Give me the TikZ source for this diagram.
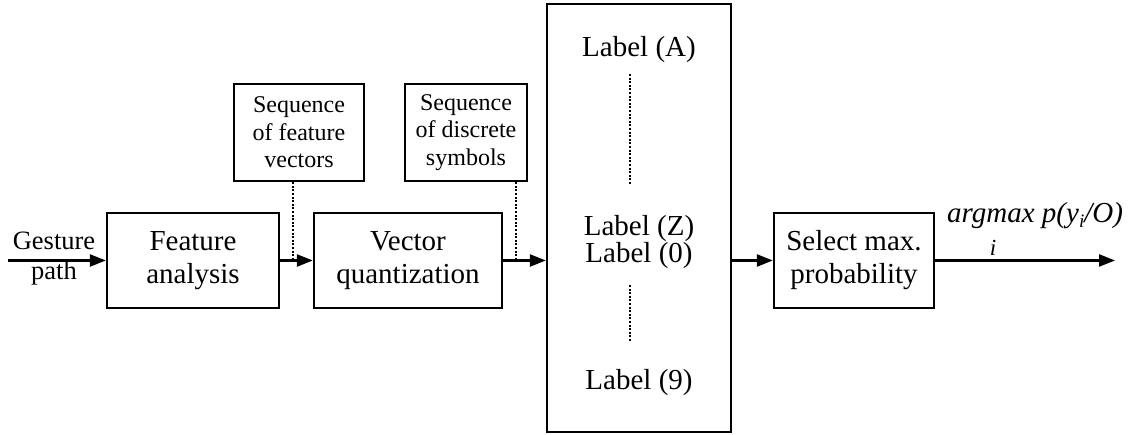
\documentclass[tikz,border=0pt]{standalone}
\usepackage{fontspec}
\setmainfont{Liberation Serif}
\usetikzlibrary{arrows.meta}

\begin{document}
\begin{tikzpicture}[x=1pt,y=1pt,
  blk/.style={draw, line width=2.4pt, align=center, inner sep=0pt,
    font=\fontsize{29}{33}\selectfont, minimum height=95pt},
  note/.style={draw, line width=2.4pt, align=center, inner sep=0pt,
    font=\fontsize{24}{27.5}\selectfont, minimum height=97pt},
  lbl/.style={anchor=base, font=\fontsize{29}{33}\selectfont, inner sep=0pt},
  flow/.style={line width=2.4pt, -{Triangle[length=16pt,width=12pt]}},
  dots/.style={line width=2pt, dash pattern=on 2pt off 1.6pt}]

\useasboundingbox (0,0) rectangle (1130,435);

% processing blocks
\node[blk, minimum width=172pt] (fa) at (193,174.5) {Feature\\analysis};
\node[blk, minimum width=188pt] (vq) at (408,174.5) {Vector\\quantization};
\node[blk, minimum width=160pt] (sel) at (854,174.5) {Select max.\\probability};

% intermediate data descriptions
\node[note, minimum width=130pt] (sf) at (299,302.5) {Sequence\\of feature\\vectors};
\node[note, minimum width=122pt] (sd) at (466,302.5) {Sequence\\of discrete\\symbols};

% bank of label models
\node[draw, line width=2.4pt, minimum width=184pt, minimum height=428pt, inner sep=0pt] (bank) at (639,217) {};
\node[lbl] (la) at (639,378) {Label (A)};
\node[lbl] (lz) at (639,199) {Label (Z)};
\node[lbl] (l0) at (639,172) {Label (0)};
\node[lbl] (l9) at (639,45) {Label (9)};
\coordinate (d1t) at (630,361);
\coordinate (d1b) at (630,251);
\coordinate (d2t) at (630,150);
\coordinate (d2b) at (630,93);
\draw[dots] (d1t) -- (d1b);
\draw[dots] (d2t) -- (d2b);

% input
\coordinate (in) at (8,174.5);
\node[align=center, inner sep=0pt, font=\fontsize{26.5}{30}\selectfont] (gp) at (54,176) {Gesture\\path};
\draw[flow] (in) -- (fa.west);

% main flow
\draw[flow] (fa.east) -- (vq.west);
\draw[flow] (vq.east) -- (vq.east -| bank.west);
\draw[flow] (bank.east |- sel.west) -- (sel.west);
\coordinate (out) at (1115,174.5);
\draw[flow] (sel.east) -- (out);

% taps from the flow to the data descriptions
\coordinate (t1) at (293,174.5);
\coordinate (t2) at (516,174.5);
\draw[dots] (t1 |- sf.south) -- (t1);
\draw[dots] (t2 |- sd.south) -- (t2);

% output expression
\node[anchor=base west, inner sep=0pt, font=\fontsize{29}{33}\selectfont\itshape] (res) at (947,212)
  {arg\makebox[0pt][l]{\hspace{0.12em}\raisebox{-33pt}{\fontsize{23}{23}\selectfont i}}max p(y\raisebox{-5pt}{\fontsize{19}{19}\selectfont i}/O)};

\end{tikzpicture}
\end{document}
